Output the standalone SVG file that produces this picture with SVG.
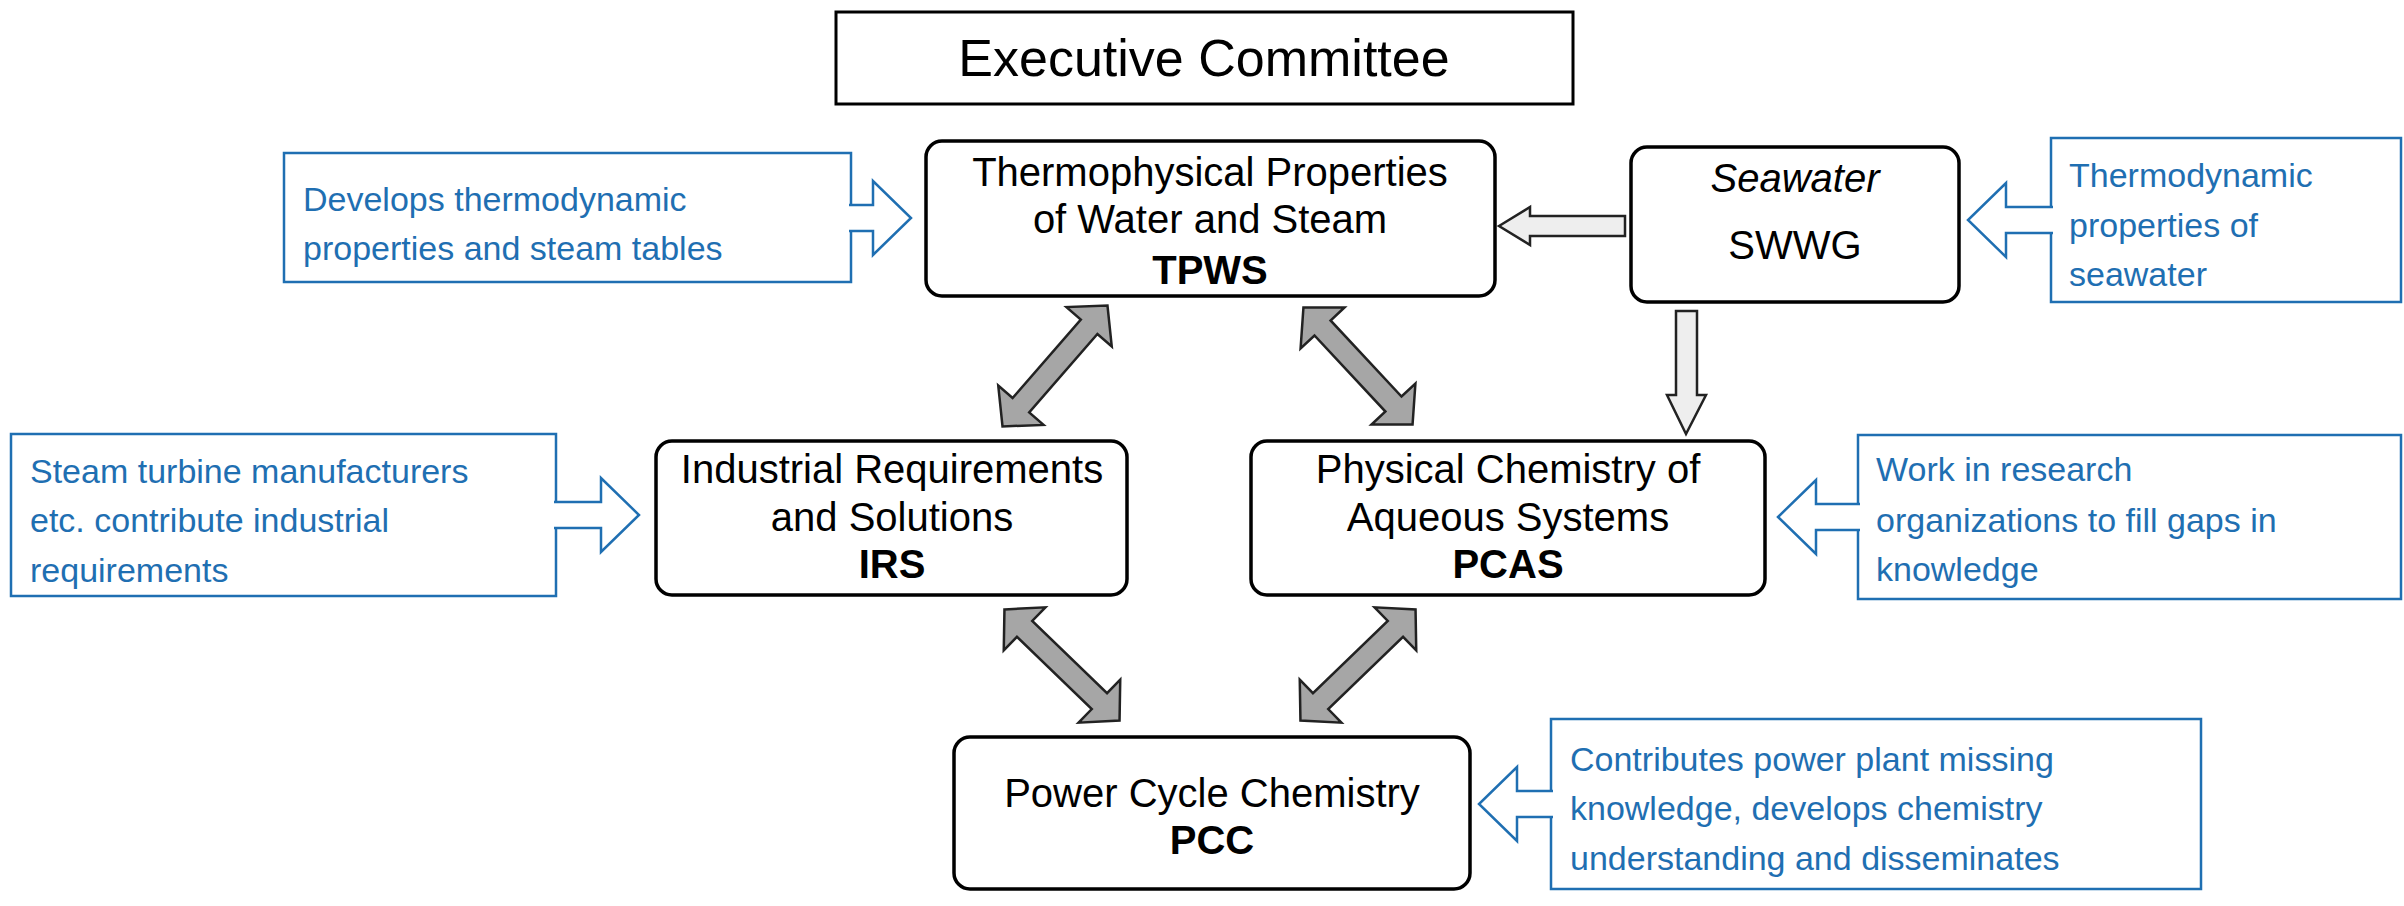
<svg xmlns="http://www.w3.org/2000/svg" width="2404" height="906" viewBox="0 0 2404 906">
<style>
.node{fill:#fff;stroke:#000;stroke-width:3.5}
.t{font-family:"Liberation Sans",Arial,sans-serif;font-size:40px;fill:#000;text-anchor:middle}
.b{font-weight:bold}
.bl{fill:#fff;stroke:#1f6fb2;stroke-width:2.5}
.bt{font-family:"Liberation Sans",Arial,sans-serif;font-size:34px;fill:#1f6fb2}
.ga{fill:#eee;stroke:#222;stroke-width:2.5}
.da{fill:#a6a6a6;stroke:#222;stroke-width:2.5}
</style>
<defs>
<polygon id="dbl" points="-80,0 -52,-30 -52,-11 52,-11 52,-30 80,0 52,30 52,11 -52,11 -52,30"/>
</defs>
<g id="exec"><rect x="836" y="12" width="737" height="92" fill="#fff" stroke="#000" stroke-width="3"/><text class="t" x="1204" y="76" style="font-size:52px">Executive Committee</text></g>
<g id="tpws"><rect class="node" x="926" y="141" width="569" height="155" rx="16"/><text class="t" x="1210" y="186">Thermophysical Properties</text><text class="t" x="1210" y="233">of Water and Steam</text><text class="t b" x="1210" y="284">TPWS</text></g>
<g id="swwg"><rect class="node" x="1631" y="147" width="328" height="155" rx="16"/><text class="t" x="1795" y="192" font-style="italic">Seawater</text><text class="t" x="1795" y="259">SWWG</text></g>
<g id="irs"><rect class="node" x="656" y="441" width="471" height="154" rx="16"/><text class="t" x="892" y="483">Industrial Requirements</text><text class="t" x="892" y="531">and Solutions</text><text class="t b" x="892" y="578">IRS</text></g>
<g id="pcas"><rect class="node" x="1251" y="441" width="514" height="154" rx="16"/><text class="t" x="1508" y="483">Physical Chemistry of</text><text class="t" x="1508" y="531">Aqueous Systems</text><text class="t b" x="1508" y="578">PCAS</text></g>
<g id="pcc"><rect class="node" x="954" y="737" width="516" height="152" rx="16"/><text class="t" x="1212" y="807">Power Cycle Chemistry</text><text class="t b" x="1212" y="854">PCC</text></g>
<g id="note1"><rect class="bl" x="284" y="153" width="567" height="129"/><polyline class="bl" points="849,205 873,205 873,181 911,218 873,255 873,231 849,231"/><text class="bt" x="303" y="211">Develops thermodynamic</text><text class="bt" x="303" y="260">properties and steam tables</text></g>
<g id="note2"><rect class="bl" x="2051" y="138" width="350" height="164"/><polyline class="bl" points="2053,207 2006,207 2006,183 1968,220 2006,257 2006,233 2053,233"/><text class="bt" x="2069" y="187">Thermodynamic</text><text class="bt" x="2069" y="237">properties of</text><text class="bt" x="2069" y="286">seawater</text></g>
<g id="note3"><rect class="bl" x="11" y="434" width="545" height="162"/><polyline class="bl" points="554,502 601,502 601,478 639,515 601,552 601,528 554,528"/><text class="bt" x="30" y="483">Steam turbine manufacturers</text><text class="bt" x="30" y="532">etc. contribute industrial</text><text class="bt" x="30" y="582">requirements</text></g>
<g id="note4"><rect class="bl" x="1858" y="435" width="543" height="164"/><polyline class="bl" points="1860,504 1816,504 1816,480 1778,517 1816,554 1816,530 1860,530"/><text class="bt" x="1876" y="481">Work in research</text><text class="bt" x="1876" y="532">organizations to fill gaps in</text><text class="bt" x="1876" y="581">knowledge</text></g>
<g id="note5"><rect class="bl" x="1551" y="719" width="650" height="170"/><polyline class="bl" points="1553,791 1517,791 1517,767 1479,804 1517,841 1517,817 1553,817"/><text class="bt" x="1570" y="771">Contributes power plant missing</text><text class="bt" x="1570" y="820">knowledge, develops chemistry</text><text class="bt" x="1570" y="870">understanding and disseminates</text></g>
<g id="connectors">
<polygon class="ga" points="1499,226 1530,207 1530,216 1625,216 1625,236 1530,236 1530,245"/>
<polygon class="ga" points="1676,311 1697,311 1697,395 1706,395 1686,434 1667,395 1676,395"/>
<use href="#dbl" class="da" transform="translate(1055,366) rotate(131)"/>
<use href="#dbl" class="da" transform="translate(1358,366) rotate(47)"/>
<use href="#dbl" class="da" transform="translate(1062,665) rotate(44)"/>
<use href="#dbl" class="da" transform="translate(1358,665) rotate(136)"/>
</g>
</svg>
